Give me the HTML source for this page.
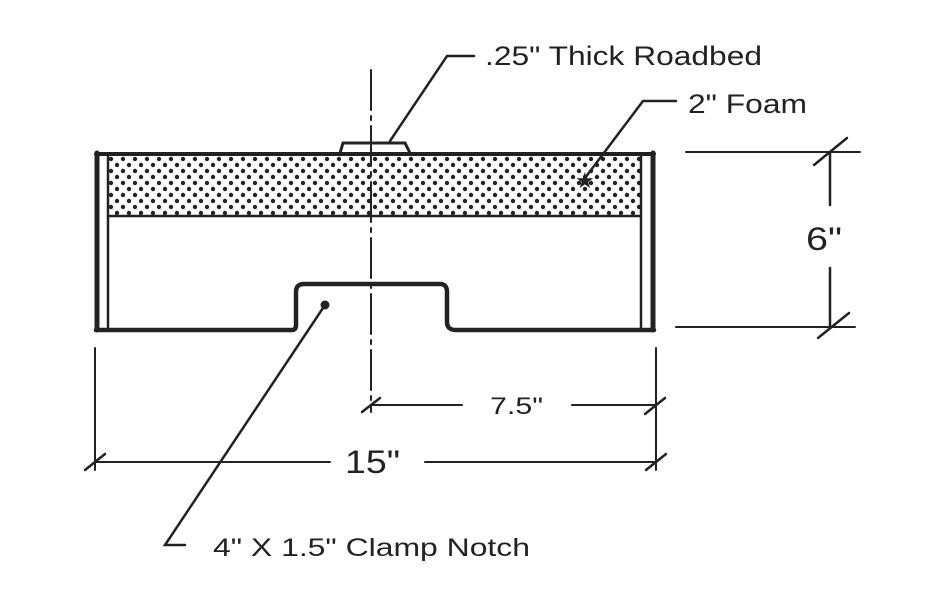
<!DOCTYPE html>
<html><head><style>body{margin:0;background:#fff}svg{display:block}</style></head><body>
<svg width="943" height="607" viewBox="0 0 943 607" xmlns="http://www.w3.org/2000/svg" font-family="Liberation Sans, sans-serif">
<defs>
<pattern id="d" width="12" height="12" patternUnits="userSpaceOnUse">
<circle cx="3" cy="3" r="2.2" fill="#222"/><circle cx="9" cy="9" r="2.2" fill="#222"/>
</pattern>
</defs>
<g stroke="#222" fill="none" stroke-linecap="round">
<rect x="108" y="155" width="532" height="60" fill="url(#d)" stroke="none"/>
<line x1="108" y1="216" x2="640" y2="216" stroke-width="2.5"/>
<line x1="97" y1="153" x2="97" y2="330" stroke-width="5"/>
<line x1="108" y1="155" x2="108" y2="330" stroke-width="2.5"/>
<line x1="641" y1="155" x2="641" y2="330" stroke-width="2.5"/>
<line x1="653" y1="153" x2="653" y2="330" stroke-width="5"/>
<line x1="96" y1="154" x2="654" y2="154" stroke-width="4"/>
<path d="M96 330 H292 Q296 330 296 325 V292 Q296 284 304 284 H440 Q447 284 447 292 V322 Q447 330 456 330 H654" stroke-width="4.5"/>
<path d="M340 153 L343 143 H405 L410 153" stroke-width="3"/>
<line x1="371" y1="70" x2="371" y2="412" stroke-width="2" stroke-dasharray="40 6 4 6"/>
<polyline points="390,141 447,56 474,56" stroke-width="2.5"/>
<polyline points="585,178 643,101 676,101" stroke-width="2.5"/>
<polyline points="325,305 165,545 185,545" stroke-width="2.5"/>
<line x1="686" y1="152" x2="860" y2="152" stroke-width="2"/>
<line x1="676" y1="327" x2="855" y2="327" stroke-width="2"/>
<line x1="830" y1="152" x2="830" y2="205" stroke-width="2.5"/>
<line x1="830" y1="268" x2="830" y2="327" stroke-width="2.5"/>
<line x1="814" y1="165" x2="847" y2="138" stroke-width="2.5"/>
<line x1="818" y1="338" x2="849" y2="313" stroke-width="2.5"/>
<line x1="95" y1="348" x2="95" y2="470" stroke-width="2"/>
<line x1="656" y1="348" x2="656" y2="470" stroke-width="2"/>
<line x1="371" y1="405" x2="462" y2="405" stroke-width="2"/>
<line x1="572" y1="405" x2="656" y2="405" stroke-width="2"/>
<line x1="362" y1="412" x2="380" y2="398" stroke-width="2.5"/>
<line x1="645" y1="414" x2="665" y2="398" stroke-width="2.5"/>
<line x1="95" y1="462" x2="330" y2="462" stroke-width="2"/>
<line x1="425" y1="462" x2="656" y2="462" stroke-width="2"/>
<line x1="85" y1="470" x2="105" y2="454" stroke-width="2.5"/>
<line x1="646" y1="470" x2="666" y2="454" stroke-width="2.5"/>
</g>
<circle cx="325" cy="305" r="4.5" fill="#222"/>
<text x="575" y="188" font-size="22" fill="#222">★</text>
<g fill="#222">
<text x="485" y="65" font-size="27" textLength="277" lengthAdjust="spacingAndGlyphs">.25" Thick Roadbed</text>
<text x="688" y="113" font-size="27" textLength="119" lengthAdjust="spacingAndGlyphs">2" Foam</text>
<text x="806" y="250" font-size="32" textLength="36" lengthAdjust="spacingAndGlyphs">6"</text>
<text x="490" y="414" font-size="24" textLength="53" lengthAdjust="spacingAndGlyphs">7.5"</text>
<text x="345" y="473" font-size="32" textLength="55" lengthAdjust="spacingAndGlyphs">15"</text>
<text x="213" y="556" font-size="25" textLength="317" lengthAdjust="spacingAndGlyphs">4" X 1.5" Clamp Notch</text>
</g>
</svg>
</body></html>
